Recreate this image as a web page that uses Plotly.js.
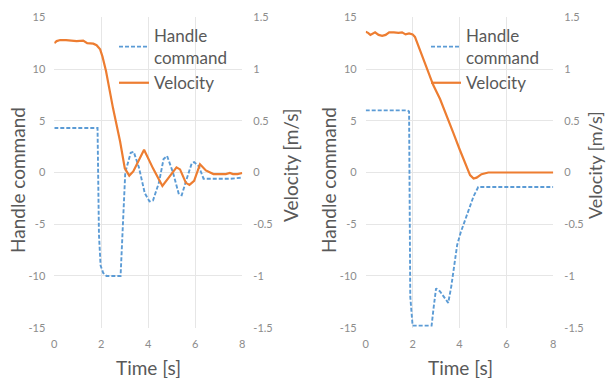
<!DOCTYPE html>
<html>
<head>
<meta charset="utf-8">
<script src="https://cdn.plot.ly/plotly-3.0.1.min.js"></script>
<style>html,body{margin:0;padding:0;background:#fff;}#chart{width:607px;height:378px;}</style>
</head>
<body>
<div id="chart"></div>
<script>
// ---- Data ----
// Left panel: handle command
var tHandleL = [0, 1.84, 1.9, 1.97, 2.08, 2.22, 2.82, 2.92, 3.02, 3.25, 3.38, 3.6, 3.85, 4.05, 4.2, 4.45, 4.65, 4.8, 5.05, 5.3, 5.42, 5.65, 5.85, 5.95, 6.15, 6.35, 7.5, 8];
var handleL  = [4.3, 4.3, -6.0, -9.0, -9.7, -10, -10, -5.0, 0.0, 1.9, 2.0, 0.5, -2.0, -2.8, -2.7, -1.0, 1.3, 1.6, 0.0, -2.1, -2.2, -0.5, 0.9, 1.0, 0.6, -0.6, -0.6, -0.5];
// Left panel: velocity [m/s]
var tVelL = [0, 0.1, 0.25, 0.5, 0.95, 1.1, 1.23, 1.4, 1.66, 1.8, 1.95, 2.05, 2.2, 2.5, 2.8, 3.0, 3.19, 3.36, 3.82, 4.2, 4.6, 4.9, 5.2, 5.35, 5.6, 5.75, 5.95, 6.2, 6.45, 6.77, 7.0, 7.3, 7.47, 7.6, 7.8, 8];
var velL  = [1.25, 1.27, 1.28, 1.28, 1.27, 1.27, 1.275, 1.25, 1.245, 1.23, 1.19, 1.12, 0.98, 0.62, 0.3, 0.04, -0.03, 0.01, 0.22, 0.04, -0.13, -0.04, 0.05, 0.03, -0.1, -0.12, -0.08, 0.08, 0.02, -0.015, -0.015, -0.015, -0.005, -0.015, -0.015, -0.005];
// Right panel: handle command
var tHandleR = [0, 1.78, 1.85, 1.9, 2.0, 2.81, 2.9, 3.0, 3.17, 3.52, 3.65, 3.8, 3.9, 4.05, 4.25, 4.45, 4.6, 4.8, 8];
var handleR  = [6.0, 6.0, 5.9, -12, -14.8, -14.8, -13, -11.2, -11.5, -12.6, -11, -8.5, -7, -5.8, -4.5, -3.2, -2.3, -1.4, -1.4];
// Right panel: velocity [m/s]
var tVelR = [0, 0.1, 0.2, 0.4, 0.55, 0.7, 0.85, 1.0, 1.2, 1.4, 1.55, 1.7, 1.85, 2.0, 2.1, 2.32, 2.6, 2.88, 3.17, 3.45, 3.74, 4.02, 4.23, 4.45, 4.6, 4.73, 4.94, 5.23, 5.5, 8];
var velR  = [1.36, 1.35, 1.33, 1.355, 1.33, 1.32, 1.33, 1.355, 1.355, 1.35, 1.355, 1.335, 1.345, 1.335, 1.31, 1.18, 1.0, 0.845, 0.71, 0.555, 0.38, 0.215, 0.09, -0.025, -0.058, -0.05, -0.016, 0, 0, 0];

// Tick labels
var xTicks = [0, 2, 4, 6, 8];
var xTickText = ['0', '2', '4', '6', '8'];
var hTicks = [-15, -10, -5, 0, 5, 10, 15];
var hTickText = ['-15', '-10', '-5', '0', '5', '10', '15'];
var vTicks = [-1.5, -1, -0.5, 0, 0.5, 1, 1.5];
var vTickText = ['-1.5', '-1', '-0.5', '0', '0.5', '1', '1.5'];

var seriesNames = ['Handle<br>command', 'Velocity'];
var xTitle = 'Time [s]';
var hTitle = 'Handle command';
var vTitle = 'Velocity [m/s]';

// ---- Styling ----
var W = 607, H = 378;
var BLUE = '#5B9BD5', ORANGE = '#ED7D31';
var FONT = 'Lato, "Open Sans", sans-serif';
var TXT = '#595959', TICK = '#8c8c8c', GRID = '#e6e6e6';
function px(x) { return x / W; }
function py(y) { return 1 - y / H; }

var yDom = [py(327.7), py(17.3)];
var xDomL = [px(54.3), px(242.3)];
var xDomR = [px(365.7), px(553.3)];

var handleLine = {color: BLUE, width: 1.9, dash: '4px,2px'};
var velLine = {color: ORANGE, width: 2.2};

var traces = [
  {x: tHandleL, y: handleL, xaxis: 'x', yaxis: 'y', mode: 'lines', name: seriesNames[0], line: handleLine, legend: 'legend'},
  {x: tVelL, y: velL, xaxis: 'x', yaxis: 'y2', mode: 'lines', name: seriesNames[1], line: velLine, legend: 'legend'},
  {x: tHandleR, y: handleR, xaxis: 'x2', yaxis: 'y3', mode: 'lines', name: seriesNames[0], line: handleLine, legend: 'legend2'},
  {x: tVelR, y: velR, xaxis: 'x2', yaxis: 'y4', mode: 'lines', name: seriesNames[1], line: velLine, legend: 'legend2'}
];

function xAxis(dom, anchor) {
  return {domain: dom, anchor: anchor, range: [0, 8], tickvals: xTicks, ticktext: xTickText,
    showgrid: true, gridcolor: GRID, gridwidth: 1, zeroline: false, showline: false,
    ticks: '', ticklabelstandoff: 8, tickfont: {family: FONT, size: 11, color: TICK}, automargin: false, fixedrange: true};
}
function hAxis(dom, anchor) {
  return {domain: dom, anchor: anchor, range: [-15, 15], tickvals: hTicks, ticktext: hTickText,
    showgrid: true, gridcolor: GRID, gridwidth: 1, zeroline: false, showline: false,
    ticks: '', ticklabelstandoff: 8, tickfont: {family: FONT, size: 11, color: TICK}, automargin: false, fixedrange: true};
}
function vAxis(over, anchor) {
  return {overlaying: over, anchor: anchor, side: 'right', range: [-1.5, 1.5], tickvals: vTicks, ticktext: vTickText,
    showgrid: false, zeroline: false, showline: false,
    ticks: '', ticklabelstandoff: 10, tickfont: {family: FONT, size: 11, color: TICK}, automargin: false, fixedrange: true};
}

function ann(text, x, y, angle, size) {
  return {text: text, xref: 'paper', yref: 'paper', x: px(x), y: py(y), xanchor: 'center', yanchor: 'middle',
    showarrow: false, textangle: angle, font: {family: FONT, size: size, color: TXT}};
}

var legendFont = {family: FONT, size: 17, color: TXT};
var layout = {
  width: W, height: H,
  margin: {l: 0, r: 0, t: 0, b: 0},
  paper_bgcolor: '#fff', plot_bgcolor: '#fff',
  showlegend: true,
  xaxis: xAxis(xDomL, 'y'),
  yaxis: hAxis(yDom, 'x'),
  yaxis2: vAxis('y', 'x'),
  xaxis2: xAxis(xDomR, 'y3'),
  yaxis3: hAxis(yDom, 'x2'),
  yaxis4: vAxis('y3', 'x2'),
  legend: {x: px(114), y: py(18), xanchor: 'left', yanchor: 'top', bgcolor: 'rgba(0,0,0,0)', borderwidth: 0,
    font: legendFont, itemwidth: 30, tracegroupgap: 0},
  legend2: {x: px(426), y: py(18), xanchor: 'left', yanchor: 'top', bgcolor: 'rgba(0,0,0,0)', borderwidth: 0,
    font: legendFont, itemwidth: 30, tracegroupgap: 0},
  annotations: [
    ann(xTitle, 148, 367, 0, 19),
    ann(xTitle, 460, 367, 0, 19),
    ann(hTitle, 17, 180, -90, 19),
    ann(hTitle, 328, 180, -90, 19),
    ann(vTitle, 290, 165, -90, 19),
    ann(vTitle, 595, 165, -90, 18)
  ]
};

Plotly.newPlot('chart', traces, layout, {displayModeBar: false, staticPlot: true});
</script>
</body>
</html>
